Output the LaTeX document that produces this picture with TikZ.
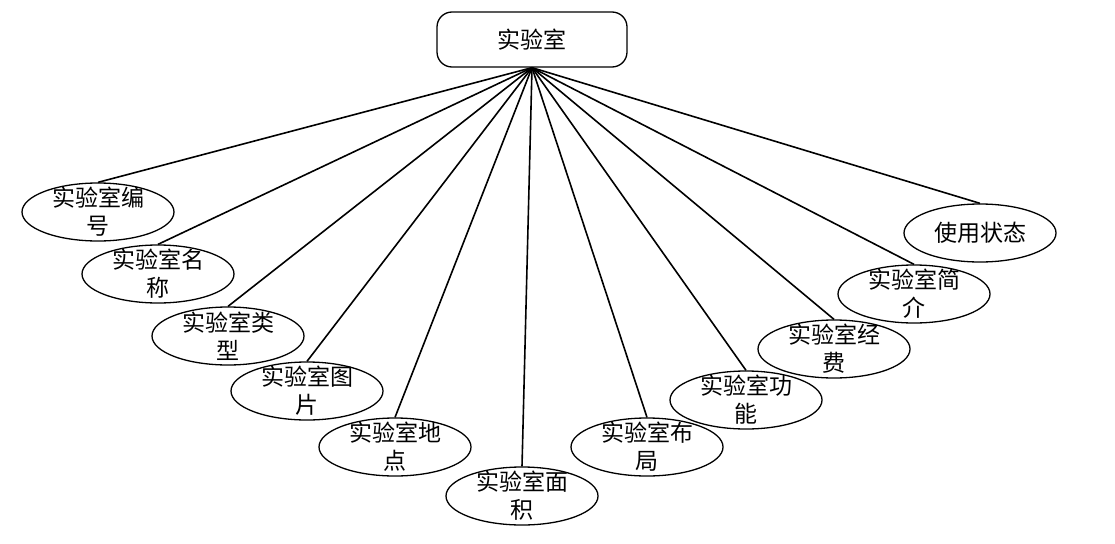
\documentclass[tikz,border=0pt]{standalone}
\usepackage{fontspec}
\setmainfont{Noto Sans CJK SC}
\usepackage{tikz}
\usetikzlibrary{shapes.geometric,positioning}
\tikzset{
  entity/.style = {rectangle, draw, line width=1.3pt, rounded corners=15pt,
    minimum width=190pt, minimum height=55pt, font=\fontsize{23}{28}\selectfont},
  attr/.style = {ellipse, draw, line width=1.3pt, minimum width=152pt,
    minimum height=58pt, inner sep=0pt},
  attrtext/.style = {align=center, inner sep=0pt, font=\fontsize{23}{28}\selectfont},
  link/.style = {line width=1.6pt}
}

\begin{document}
\begin{tikzpicture}[x=1pt, y=-1pt]
\useasboundingbox (0,0) rectangle (1115,543);

\node[entity] (lab) at (532,39.5) {实验室};

\node[attr, label={[attrtext]center:{实验室编\\号}}] (bh) at (98,212) {};
\node[attr, label={[attrtext]center:{实验室名\\称}}] (mc) at (158,274) {};
\node[attr, label={[attrtext]center:{实验室类\\型}}] (lx) at (228,336) {};
\node[attr, label={[attrtext]center:{实验室图\\片}}] (tp) at (307,391) {};
\node[attr, label={[attrtext]center:{实验室地\\点}}] (dd) at (395,447) {};
\node[attr, label={[attrtext]center:{实验室面\\积}}] (mj) at (522,496) {};
\node[attr, label={[attrtext]center:{实验室布\\局}}] (bj) at (647,447) {};
\node[attr, label={[attrtext]center:{实验室功\\能}}] (gn) at (746,400) {};
\node[attr, label={[attrtext]center:{实验室经\\费}}] (jf) at (834,349) {};
\node[attr, label={[attrtext]center:{实验室简\\介}}] (jj) at (914,294) {};
\node[attr, label={[attrtext]center:{使用状态}}] (zt) at (980,233) {};

\foreach \n in {bh,mc,lx,tp,dd,mj,bj,gn,jf,jj,zt}
  \draw[link] (lab.south) -- (\n.north);

\end{tikzpicture}
\end{document}
